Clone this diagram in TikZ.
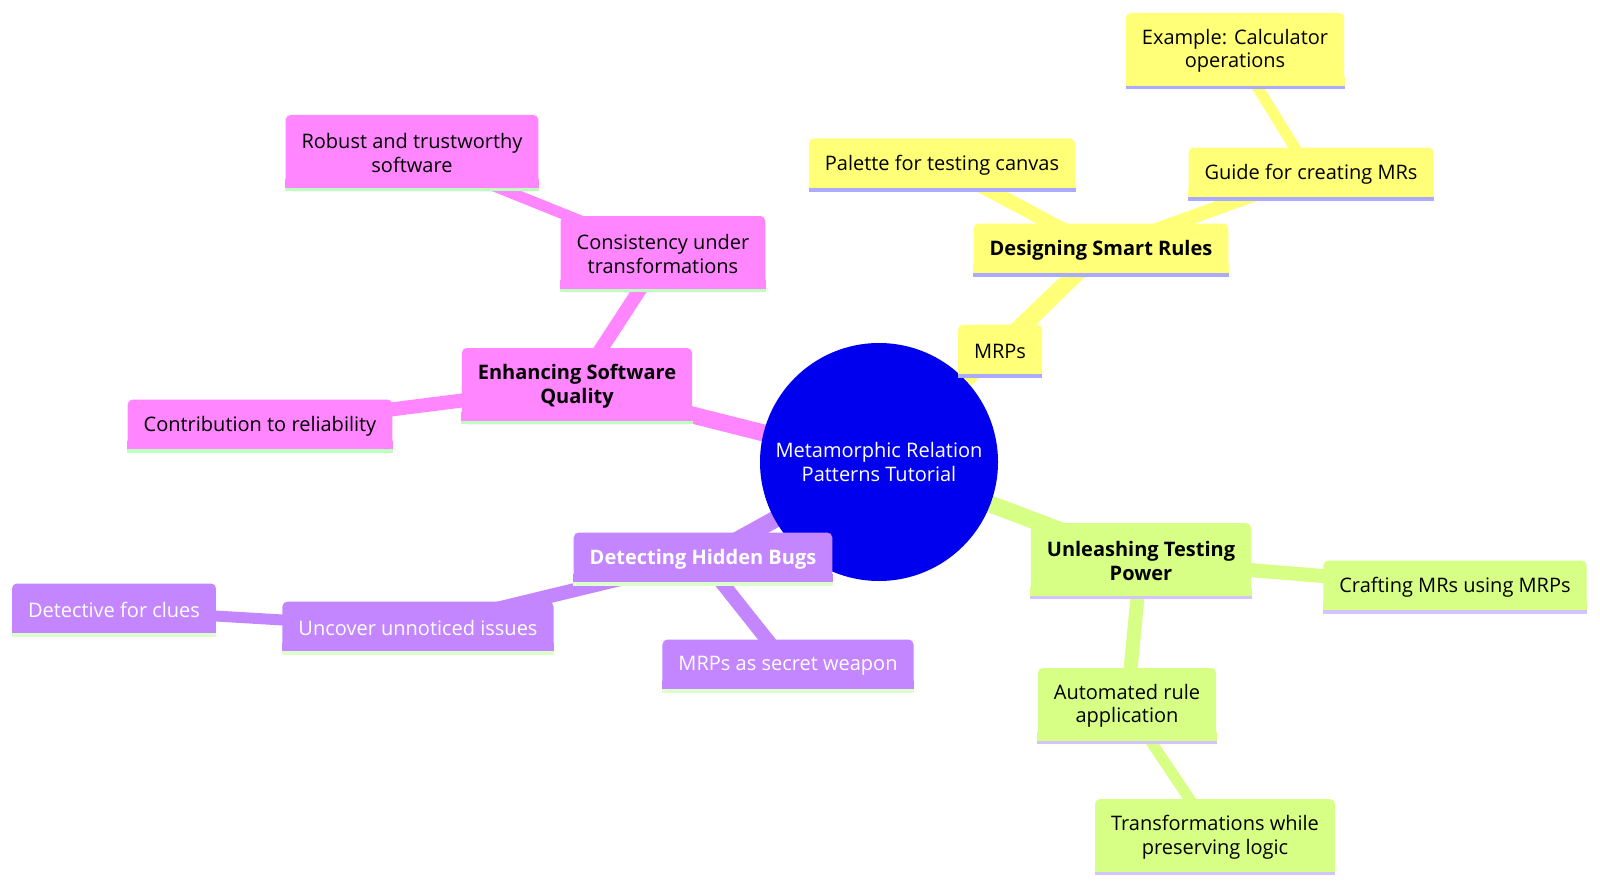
\documentclass[tikz,border=0pt]{standalone}
\usepackage[usenames]{xcolor}
\usepackage{fontspec}
\setmainfont{Open Sans}
\usepackage{tikz}
\usetikzlibrary{backgrounds}
\definecolor{rootblue}{HTML}{0000EE}
\definecolor{ylw}{HTML}{FFFF78}
\definecolor{ylwline}{HTML}{AAAAFF}
\definecolor{grn}{HTML}{D7FF86}
\definecolor{grnline}{HTML}{D3C3FF}
\definecolor{prp}{HTML}{C386FF}
\definecolor{prpline}{HTML}{DCFFCC}
\definecolor{pnk}{HTML}{FF86FF}
\definecolor{pnkline}{HTML}{BDFFBD}

\begin{document}
\begin{tikzpicture}[
   x=0.5pt,y=-0.5pt,
   every node/.style={font=\fontsize{10pt}{11.75pt}\selectfont},
   root/.style={circle,fill=rootblue,text=white,minimum size=119pt,inner sep=0pt,align=center},
   box/.style 2 args={fill=#1,rounded corners=2.5pt,inner xsep=8pt,inner ysep=3pt,minimum height=26.5pt,align=center,
      append after command={([yshift=3pt]\tikzlastnode.south west) edge[draw=#1,line width=6pt] ([yshift=3pt]\tikzlastnode.south east)
         ([yshift=0.9pt]\tikzlastnode.south west) edge[draw=#2,line width=1.8pt] ([yshift=0.9pt]\tikzlastnode.south east)}},
   tall/.style={minimum height=38pt},
   head/.style={font=\fontsize{10pt}{11.75pt}\selectfont\bfseries},
   yb/.style={box={ylw}{ylwline}},
   gb/.style={box={grn}{grnline}},
   pb/.style={box={prp}{prpline},text=white},
   kb/.style={box={pnk}{pnkline}},
   e0/.style={draw=#1,line width=8.5pt},
   e1/.style={draw=#1,line width=7pt},
   e2/.style={draw=#1,line width=5.5pt}]
\useasboundingbox (0,0) rectangle (1600,888);
\node[root] (Root) at (879,462) {Metamorphic Relation\\Patterns Tutorial};
\node[yb,head] (Designing) at (1101,250) {Designing Smart Rules};
\node[yb] (MRPs) at (1000,351) {MRPs};
\node[yb] (Palette) at (942,165) {Palette for testing canvas};
\node[yb] (Guide) at (1311,174) {Guide for creating MRs};
\node[yb,tall] (Example) at (1235,51) {Example: Calculator\\operations};
\node[kb,head,tall] (Enhancing) at (577,386) {Enhancing Software\\Quality};
\node[kb,tall] (Consistency) at (663,254) {Consistency under\\transformations};
\node[kb,tall] (Robust) at (412,153) {Robust and trustworthy\\software};
\node[kb] (Contribution) at (260,426) {Contribution to reliability};
\node[pb,head] (Detecting) at (703,559) {Detecting Hidden Bugs};
\node[pb] (Uncover) at (418,628) {Uncover unnoticed issues};
\node[pb] (Detective) at (114,610) {Detective for clues};
\node[pb] (Weapon) at (788,666) {MRPs as secret weapon};
\node[gb,head,tall] (Unleashing) at (1141,561) {Unleashing Testing\\Power};
\node[gb] (Crafting) at (1455,587) {Crafting MRs using MRPs};
\node[gb,tall] (Automated) at (1127,706) {Automated rule\\application};
\node[gb,tall] (Transformations) at (1215,837) {Transformations while\\preserving logic};
\begin{scope}[on background layer]
\draw[e0=ylw] (Root.center) -- (Designing.center);
\draw[e1=ylw] (Designing.center) -- (MRPs.center);
\draw[e1=ylw] (Designing.center) -- (Palette.center);
\draw[e1=ylw] (Designing.center) -- (Guide.center);
\draw[e2=ylw] (Guide.center) -- (Example.center);
\draw[e0=pnk] (Root.center) -- (Enhancing.center);
\draw[e1=pnk] (Enhancing.center) -- (Consistency.center);
\draw[e2=pnk] (Consistency.center) -- (Robust.center);
\draw[e1=pnk] (Enhancing.center) -- (Contribution.center);
\draw[e0=prp] (Root.center) -- (Detecting.center);
\draw[e1=prp] (Detecting.center) -- (Uncover.center);
\draw[e2=prp] (Uncover.center) -- (Detective.center);
\draw[e1=prp] (Detecting.center) -- (Weapon.center);
\draw[e0=grn] (Root.center) -- (Unleashing.center);
\draw[e1=grn] (Unleashing.center) -- (Crafting.center);
\draw[e1=grn] (Unleashing.center) -- (Automated.center);
\draw[e2=grn] (Automated.center) -- (Transformations.center);
\end{scope}
\end{tikzpicture}
\end{document}
